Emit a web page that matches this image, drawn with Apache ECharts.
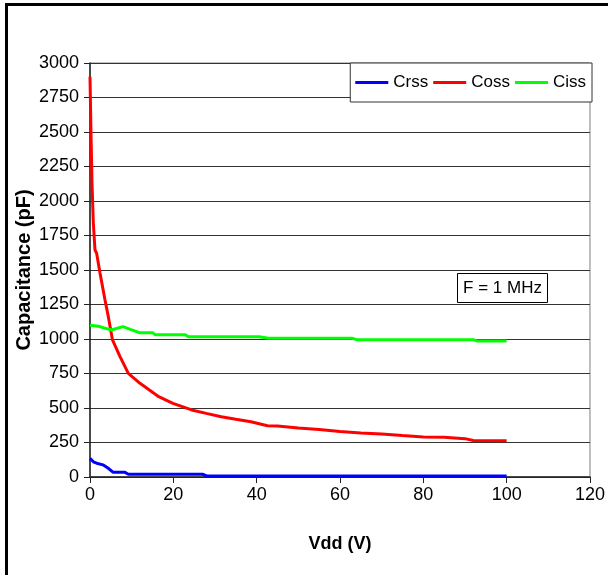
<!DOCTYPE html>
<html>
<head>
<meta charset="utf-8">
<script src="https://cdn.jsdelivr.net/npm/echarts@6/dist/echarts.min.js"></script>
<style>
html,body{margin:0;padding:0;background:#fff;}
#c{width:608px;height:575px;}
</style>
</head>
<body>
<div id="c"></div>
<script>
// Vdd (V) / capacitance (pF) pairs
var crssV = [0, 0.8, 1.6, 3.1, 4.3, 5.5, 8.3, 9.2, 27, 28, 100];
var crssC = [135, 110, 100, 88, 65, 35, 35, 20, 20, 8, 8];

var cossV = [0, 0.24, 0.48, 0.8, 1.2, 1.6, 2.4, 3.6, 4.4, 5.4, 7.2, 9.2, 12, 16.5, 19.9, 24.4, 27.9, 31.5, 35, 38.6, 42.6, 45, 50, 55, 60, 65, 70, 75, 80, 85, 90, 92, 100];
var cossC = [2900, 2490, 2130, 1840, 1645, 1620, 1478, 1283, 1162, 993, 872, 751, 679, 582, 534, 486, 461, 437, 418, 400, 372, 370, 355, 345, 330, 318, 312, 300, 290, 288, 278, 265, 262];

var cissV = [0, 2, 4, 5.1, 7.9, 11.8, 15, 15.7, 22.9, 23.6, 40.6, 42.8, 63, 64, 92, 93, 100];
var cissC = [1100, 1092, 1075, 1065, 1090, 1046, 1046, 1030, 1030, 1017, 1017, 1005, 1005, 995, 995, 985, 985];

var seriesNames = ['Crss', 'Coss', 'Ciss'];
var seriesColors = ['#0000ff', '#ff0000', '#00ff00'];

var xTicks = {min: 0, max: 120, interval: 20};
var yTicks = {min: 0, max: 3000, interval: 250};

function pairs(xs, ys) {
  return xs.map(function (x, i) { return [x, ys[i]]; });
}
var allData = [pairs(crssV, crssC), pairs(cossV, cossC), pairs(cissV, cissC)];

var FONT = "'Liberation Sans', Arial, sans-serif";
var chart = echarts.init(document.getElementById('c'), null, {renderer: 'canvas'});
chart.setOption({
  backgroundColor: '#fff',
  animation: false,
  grid: {left: 90, right: 16, top: 63, bottom: 98, show: true, borderColor: '#808080', borderWidth: 1},
  legend: {
    right: 16, top: 63,
    orient: 'horizontal',
    data: seriesNames.map(function (n) { return {name: n, icon: 'rect'}; }),
    itemWidth: 33, itemHeight: 3, itemGap: 5,
    padding: [11, 6, 11, 5],
    backgroundColor: '#fff', borderColor: '#333', borderWidth: 1,
    textStyle: {fontFamily: FONT, fontSize: 17, color: '#000'}
  },
  xAxis: {
    type: 'value', min: xTicks.min, max: xTicks.max, interval: xTicks.interval,
    name: 'Vdd (V)', nameLocation: 'middle', nameGap: 58, nameMoveOverlap: false,
    nameTextStyle: {fontFamily: FONT, fontSize: 18, fontWeight: 'bold', color: '#000'},
    axisLine: {show: true, lineStyle: {color: '#222', width: 1.5}},
    axisTick: {show: true, inside: false, length: 6, lineStyle: {color: '#222'}},
    axisLabel: {fontFamily: FONT, fontSize: 18, color: '#000', margin: 9, formatter: function (v) { return String(v); }},
    splitLine: {show: false}
  },
  yAxis: {
    type: 'value', min: yTicks.min, max: yTicks.max, interval: yTicks.interval,
    name: 'Capacitance (pF)', nameLocation: 'middle', nameGap: 56, nameMoveOverlap: false,
    nameTextStyle: {fontFamily: FONT, fontSize: 20, fontWeight: 'bold', color: '#000'},
    axisLine: {show: true, lineStyle: {color: '#222', width: 1.5}},
    axisTick: {show: true, inside: false, length: 6, lineStyle: {color: '#222'}},
    axisLabel: {fontFamily: FONT, fontSize: 18, color: '#000', margin: 11, formatter: function (v) { return String(v); }},
    splitLine: {show: true, lineStyle: {color: '#333', width: 1}}
  },
  series: seriesNames.map(function (n, i) {
    return {
      name: n, type: 'line', data: allData[i],
      showSymbol: false, symbol: 'none',
      lineStyle: {color: seriesColors[i], width: 3},
      itemStyle: {color: seriesColors[i]},
      z: 3
    };
  }),
  graphic: [
    {type: 'rect', left: 4, top: 2, shape: {width: 620, height: 600}, style: {fill: 'none', stroke: '#000', lineWidth: 3}, z: 100},
    {type: 'group', left: 457, top: 273, z: 50, children: [
      {type: 'rect', shape: {x: 0, y: 0, width: 90, height: 29}, style: {fill: '#fff', stroke: '#000', lineWidth: 1}},
      {type: 'text', x: 45, y: 15, style: {text: 'F = 1 MHz', fontFamily: FONT, fontSize: 17, fill: '#000', align: 'center', verticalAlign: 'middle'}}
    ]}
  ]
});
</script>
</body>
</html>
